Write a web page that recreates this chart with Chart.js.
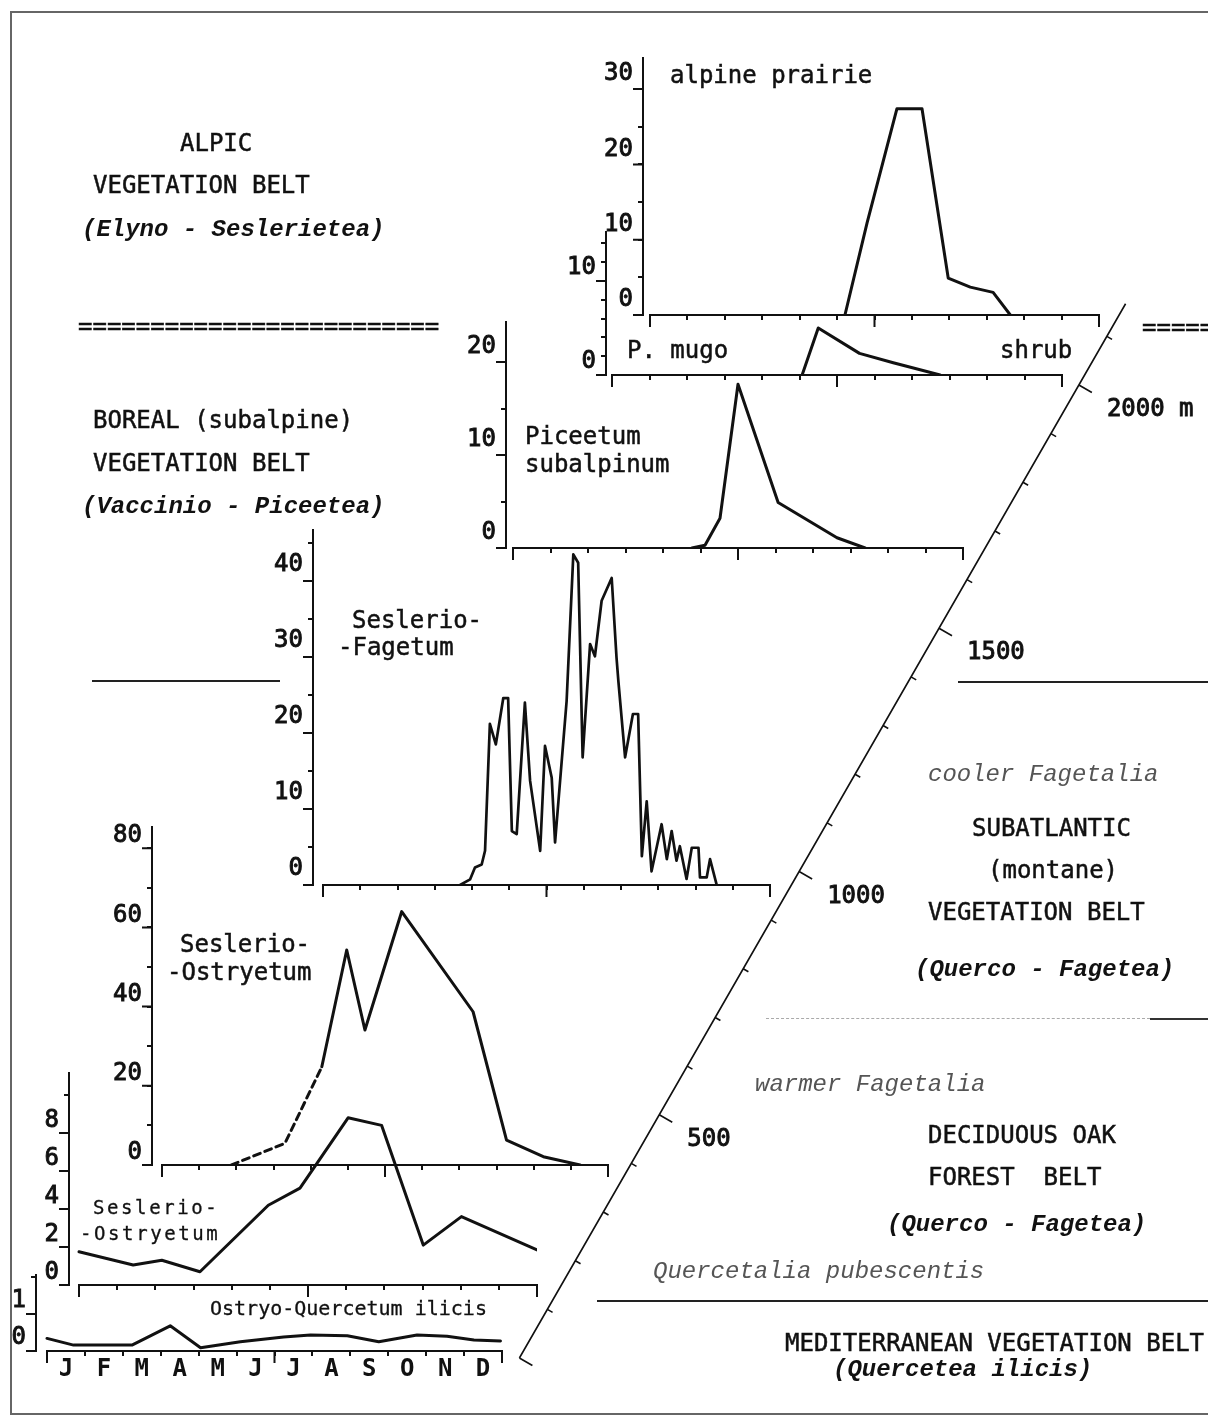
<!DOCTYPE html>
<html><head><meta charset="utf-8">
<script src="https://cdn.jsdelivr.net/npm/chart.js@4.4.1/dist/chart.umd.min.js"></script>
<style>
html,body{margin:0;padding:0;background:#fff;}
body{width:1208px;height:1423px;position:relative;overflow:hidden;}
.cw{position:absolute;}
.t{position:absolute;white-space:pre;font-family:"DejaVu Sans Mono",monospace;font-size:24px;line-height:24px;color:#111;transform:translateY(-50%);-webkit-text-stroke:0.5px #111;}
.bi{font-family:"Liberation Mono",monospace;font-style:italic;font-weight:bold;-webkit-text-stroke:0;}
.li{font-family:"Liberation Mono",monospace;font-style:italic;color:#555;-webkit-text-stroke:0;}
.sm{font-size:19px;letter-spacing:2.6px;-webkit-text-stroke:0.3px #111;}
.ql{font-size:20px;-webkit-text-stroke:0.3px #111;}
.hl{position:absolute;height:0;}
#frame{position:absolute;left:10px;top:11px;width:1220px;height:1400px;border:2px solid #666;}
</style></head>
<body>
<div id="frame"></div>
<script>
// ---------------- data ----------------
const monthLetters = ['J','F','M','A','M','J','J','A','S','O','N','D'];
const monthBoundaries = [0,1,2,3,4,5,6,7,8,9,10,11,12];
const halfSteps = [0,0.5,1,1.5,2,2.5,3,3.5,4,4.5,5,5.5,6,6.5,7,7.5,8,8.5,9,9.5,10,10.5,11,11.5,12];
const longTickMonths = [0,6,12];

const alpineMonths = [5.21,5.8,6.6,7.27,7.97,8.56,9.17,9.63];
const alpineValues = [0,12.2,27.4,27.4,4.9,3.7,3.0,0];
const alpineYTicks = [0,5,10,15,20,25,30];
const alpineYLabels = [0,10,20,30];

const mugoMonths = [5.07,5.5,6.6,7.5,8.75];
const mugoValues = [0,5.0,2.3,1.3,0];
const mugoYTicks = [0,2,4,6,8,10,12,14];
const mugoYLabels = [0,10];

const piceaMonths = [4.77,5.12,5.52,6.0,7.07,8.64,9.39];
const piceaValues = [0,0.3,3.2,17.6,4.9,1.1,0];
const piceaYTicks = [0,5,10,15,20];
const piceaYLabels = [0,10,20];

const fagetumMonths = [3.68,3.95,4.08,4.26,4.35,4.48,4.64,4.84,4.97,5.07,5.2,5.42,5.56,5.83,5.96,6.14,6.23,6.54,6.72,6.85,6.97,7.17,7.3,7.48,7.75,7.88,7.93,8.11,8.32,8.46,8.56,8.69,8.82,9.09,9.23,9.36,9.49,9.58,9.76,9.9,10.08,10.12,10.3,10.39,10.57];
const fagetumValues = [0,0.75,2.3,2.7,4.5,21.2,18.5,24.6,24.6,7.1,6.7,24,13.7,4.5,18.3,14.1,5.6,24.2,43.5,42.4,16.8,31.7,30.1,37.4,40.4,29.9,26.8,16.8,22.5,22.5,3.8,11,1.8,8,3.4,7.1,3.2,5.1,0.8,4.9,4.9,1.0,1.0,3.4,0];
const fagetumYTicks = [0,5,10,15,20,25,30,35,40,45];
const fagetumYLabels = [0,10,20,30,40];

const ostryaMonths = [1.87,3.31,4.30,4.97,5.46,6.45,8.37,9.27,10.26,11.25];
const ostryaValues = [0,5.5,24.8,54.3,34.1,64,38.7,6.3,2.1,0];
const ostryaYTicks = [0,10,20,30,40,50,60,70,80];
const ostryaYLabels = [0,20,40,60,80];
const ostryaDashedUntil = 2; // segments ending at index <= 2 are estimated (dashed)

const ostrya2Months = [0,1.42,2.17,3.17,4.96,5.79,7.05,7.93,9.02,10.02,12];
const ostrya2Values = [1.75,1.05,1.3,0.7,4.2,5.1,8.8,8.4,2.1,3.6,1.85];
const ostrya2YTicks = [0,2,4,6,8,10];
const ostrya2YLabels = [0,2,4,6,8];

const ilexMonths = [0,0.7,2.24,3.25,4.05,5.1,6.24,6.95,7.92,8.75,9.76,10.55,11.26,11.96];
const ilexValues = [0.34,0.16,0.16,0.68,0.09,0.25,0.38,0.43,0.41,0.25,0.43,0.4,0.3,0.27];
const ilexYTicks = [0,1,2];
const ilexYLabels = [0,1];

const altitudeTicks = [0,100,200,300,400,500,600,700,800,900,1000,1100,1200,1300,1400,1500,1600,1700,1800,1900,2000,2100];
const altitudeLabels = {500:'500',1000:'1000',1500:'1500',2000:'2000 m'};
const altitudeTop = 2167;

// ---------------- layout (page pixels) ----------------
const layouts = {
  alpine:  {axisX:643, xStart:650, xEnd:1099, zeroY:315,  topY:58,   perUnit:7.53, labelOffset:-15},
  mugo:    {axisX:606, xStart:612, xEnd:1062, zeroY:375,  topY:232,  perUnit:9.4,  labelOffset:-13},
  picea:   {axisX:506, xStart:513, xEnd:963,  zeroY:548,  topY:322,  perUnit:9.3,  labelOffset:-15},
  fagetum: {axisX:313, xStart:323, xEnd:770,  zeroY:885,  topY:530,  perUnit:7.6,  labelOffset:-16},
  ostrya:  {axisX:152, xStart:162, xEnd:608,  zeroY:1165, topY:827,  perUnit:3.96, labelOffset:-12},
  ostrya2: {axisX:69,  xStart:79,  xEnd:537,  zeroY:1285, topY:1073, perUnit:19,   labelOffset:-12},
  ilex:    {axisX:36,  xStart:47,  xEnd:502,  zeroY:1351, topY:1275, perUnit:37,   labelOffset:-13, monthAxis:true}
};

const INK = '#111';
const FONT = '"DejaVu Sans Mono", monospace';

function axisDecorPlugin(yLabels) {
  return {
    id: 'axisDecor',
    afterDatasetsDraw(chart) {
      const {ctx, scales} = chart;
      const x = scales.x, y = scales.y;
      const y0 = y.getPixelForValue(0);
      const ax = chart.chartArea.left;
      ctx.save();
      ctx.strokeStyle = INK; ctx.lineWidth = 2; ctx.lineCap = 'butt';
      ctx.beginPath();
      ctx.moveTo(x.getPixelForValue(0) - 1, y0);
      ctx.lineTo(x.getPixelForValue(12) + 1, y0);
      longTickMonths.forEach(m => {
        const px = x.getPixelForValue(m);
        ctx.moveTo(px, y0); ctx.lineTo(px, y0 + 12);
      });
      yLabels.forEach(v => {
        const py = y.getPixelForValue(v);
        ctx.moveTo(ax - 10, py); ctx.lineTo(ax, py);
      });
      ctx.stroke();
      ctx.restore();
    }
  };
}

function makeChart(months, values, yTicks, yLabels, L, extra) {
  extra = extra || {};
  const YW = 70, PT = 26, PR = 8, XH = L.monthAxis ? 40 : 24;
  const w = YW + (L.xEnd - L.axisX) + PR;
  const h = PT + (L.zeroY - L.topY) + XH;
  const box = document.createElement('div');
  box.className = 'cw';
  Object.assign(box.style, {left:(L.axisX - YW)+'px', top:(L.topY - PT)+'px', width:w+'px', height:h+'px'});
  const cv = document.createElement('canvas');
  box.appendChild(cv);
  document.body.appendChild(box);
  const spacing = (L.xEnd - L.xStart) / 12;
  const xMin = -(L.xStart - L.axisX) / spacing;
  const yMax = (L.zeroY - L.topY) / L.perUnit;
  const xTickValues = L.monthAxis ? halfSteps : monthBoundaries;
  new Chart(cv, {
    type: 'line',
    data: {datasets: [{
      data: months.map((m, i) => ({x: m, y: values[i]})),
      borderColor: INK, borderWidth: extra.lw || 3, pointRadius: 0, tension: 0,
      borderJoinStyle: 'round', borderCapStyle: 'round', fill: false,
      segment: extra.segment
    }]},
    options: {
      responsive: true, maintainAspectRatio: false, animation: false, events: [],
      layout: {padding: {top: PT, right: PR, left: 0, bottom: 0}},
      plugins: {legend: {display: false}, tooltip: {enabled: false}},
      scales: {
        x: {
          type: 'linear', min: xMin, max: 12,
          afterBuildTicks: s => { s.ticks = xTickValues.map(v => ({value: v})); },
          afterFit: s => { s.height = XH; },
          grid: {drawOnChartArea: false, drawTicks: true, tickLength: 5, lineWidth: 2,
                 color: c => (c.tick && Number.isInteger(c.tick.value)) ? INK : 'rgba(0,0,0,0)'},
          border: {display: false},
          ticks: {autoSkip: false, maxRotation: 0, minRotation: 0, padding: 2, color: INK,
                  font: {family: FONT, size: 24, weight: 'bold', lineHeight: 1},
                  callback: v => (L.monthAxis && !Number.isInteger(v)) ? monthLetters[Math.floor(v)] : ''}
        },
        y: {
          type: 'linear', min: 0, max: yMax,
          afterBuildTicks: s => { s.ticks = yTicks.map(v => ({value: v})); },
          afterFit: s => { s.width = YW; },
          grid: {drawOnChartArea: false, drawTicks: true, tickLength: 5, lineWidth: 2, color: INK},
          border: {display: true, color: INK, width: 2},
          ticks: {autoSkip: false, padding: 5, color: INK, labelOffset: L.labelOffset,
                  textStrokeColor: INK, textStrokeWidth: 0.9,
                  font: {family: FONT, size: 24},
                  callback: v => yLabels.includes(v) ? String(v) : ''}
        }
      }
    },
    plugins: [axisDecorPlugin(yLabels)]
  });
}

// ---------------- altitude axis overlay ----------------
function altToPage(a) {
  const y = 1358 - a * 0.4865;
  const x = 800 - 0.575 * (y - 870);
  return {x, y};
}
const altitudePlugin = {
  id: 'altitudeAxis',
  afterDraw(chart) {
    const {ctx, scales: {x, y}} = chart;
    const P = a => { const p = altToPage(a); return {x: x.getPixelForValue(p.x), y: y.getPixelForValue(p.y)}; };
    const a0 = P(0), a1 = P(altitudeTop);
    const len = Math.hypot(a1.x - a0.x, a1.y - a0.y);
    const px = Math.abs((a1.y - a0.y) / len), py = Math.abs((a1.x - a0.x) / len);
    ctx.save();
    ctx.strokeStyle = INK; ctx.lineWidth = 1.6;
    ctx.beginPath();
    ctx.moveTo(a0.x, a0.y); ctx.lineTo(a1.x, a1.y);
    altitudeTicks.forEach(a => {
      const p = P(a);
      const major = a % 500 === 0;
      const L = major ? 15 : 6;
      ctx.moveTo(p.x, p.y); ctx.lineTo(p.x + px * L, p.y + py * L);
    });
    ctx.stroke();
    ctx.fillStyle = INK;
    ctx.font = '24px ' + FONT;
    ctx.lineWidth = 0.9;
    ctx.textAlign = 'left'; ctx.textBaseline = 'middle';
    Object.keys(altitudeLabels).forEach(k => {
      const p = P(Number(k));
      ctx.fillText(altitudeLabels[k], p.x + 28, p.y + 25);
      ctx.strokeText(altitudeLabels[k], p.x + 28, p.y + 25);
    });
    ctx.restore();
  }
};
(function () {
  const box = document.createElement('div');
  box.className = 'cw';
  Object.assign(box.style, {left: '0px', top: '0px', width: '1208px', height: '1423px'});
  const cv = document.createElement('canvas');
  box.appendChild(cv); document.body.appendChild(box);
  new Chart(cv, {
    type: 'scatter',
    data: {datasets: []},
    options: {
      responsive: true, maintainAspectRatio: false, animation: false, events: [],
      layout: {padding: 0},
      plugins: {legend: {display: false}, tooltip: {enabled: false}},
      scales: {
        x: {type: 'linear', min: 0, max: 1208, display: false},
        y: {type: 'linear', min: 0, max: 1423, reverse: true, display: false}
      }
    },
    plugins: [altitudePlugin]
  });
})();

// ---------------- charts ----------------
makeChart(alpineMonths, alpineValues, alpineYTicks, alpineYLabels, layouts.alpine);
makeChart(mugoMonths, mugoValues, mugoYTicks, mugoYLabels, layouts.mugo);
makeChart(piceaMonths, piceaValues, piceaYTicks, piceaYLabels, layouts.picea);
makeChart(fagetumMonths, fagetumValues, fagetumYTicks, fagetumYLabels, layouts.fagetum, {lw: 2.7});
makeChart(ostryaMonths, ostryaValues, ostryaYTicks, ostryaYLabels, layouts.ostrya,
  {segment: {borderDash: c => c.p1DataIndex <= ostryaDashedUntil ? [7, 5] : undefined}});
makeChart(ostrya2Months, ostrya2Values, ostrya2YTicks, ostrya2YLabels, layouts.ostrya2);
makeChart(ilexMonths, ilexValues, ilexYTicks, ilexYLabels, layouts.ilex);

// ---------------- texts & belt lines ----------------
const texts = [
  ['ALPIC', 180, 143, ''],
  ['VEGETATION BELT', 93, 185, ''],
  ['(Elyno - Seslerietea)', 82, 230, 'bi'],
  ['=========================', 78, 326, ''],
  ['BOREAL (subalpine)', 93, 420, ''],
  ['VEGETATION BELT', 93, 463, ''],
  ['(Vaccinio - Piceetea)', 82, 507, 'bi'],
  ['=====', 1142, 327, ''],
  ['cooler Fagetalia', 928, 775, 'li'],
  ['SUBATLANTIC', 972, 828, ''],
  ['(montane)', 988, 870, ''],
  ['VEGETATION BELT', 928, 912, ''],
  ['(Querco - Fagetea)', 915, 970, 'bi'],
  ['warmer Fagetalia', 755, 1085, 'li'],
  ['DECIDUOUS OAK', 928, 1135, ''],
  ['FOREST  BELT', 928, 1177, ''],
  ['(Querco - Fagetea)', 887, 1225, 'bi'],
  ['Quercetalia pubescentis', 653, 1272, 'li'],
  ['MEDITERRANEAN VEGETATION BELT', 785, 1343, ''],
  ['(Quercetea ilicis)', 833, 1370, 'bi'],
  ['alpine prairie', 670, 75, ''],
  ['P. mugo', 627, 350, ''],
  ['shrub', 1000, 350, ''],
  ['Piceetum', 525, 436, ''],
  ['subalpinum', 525, 464, ''],
  ['Seslerio-', 352, 620, ''],
  ['-Fagetum', 338, 647, ''],
  ['Seslerio-', 180, 944, ''],
  ['-Ostryetum', 167, 972, ''],
  ['Seslerio-', 93, 1207, 'sm'],
  ['-Ostryetum', 80, 1233, 'sm'],
  ['Ostryo-Quercetum ilicis', 210, 1308, 'ql']
];
texts.forEach(([s, x, y, cls]) => {
  const d = document.createElement('div');
  d.className = 't ' + cls;
  d.textContent = s;
  d.style.left = x + 'px'; d.style.top = y + 'px';
  document.body.appendChild(d);
});
const beltLines = [
  [92, 280, 680, '2px solid #222'],
  [958, 1208, 681, '2px solid #222'],
  [766, 1150, 1018, '1px dashed #aaa'],
  [1150, 1208, 1018, '2px solid #333'],
  [597, 1208, 1300, '2px solid #222']
];
beltLines.forEach(([x1, x2, y, b]) => {
  const d = document.createElement('div');
  d.className = 'hl';
  Object.assign(d.style, {left: x1 + 'px', top: y + 'px', width: (x2 - x1) + 'px', borderTop: b});
  document.body.appendChild(d);
});
</script>
</body></html>
